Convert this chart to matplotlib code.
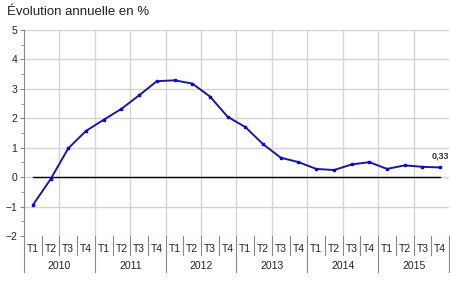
import matplotlib
matplotlib.use("Agg")
import matplotlib.pyplot as plt
import matplotlib.transforms as mtransforms
from matplotlib.ticker import MultipleLocator

plt.rcParams['font.family'] = ['Liberation Sans', 'DejaVu Sans']

years = ['2010', '2011', '2012', '2013', '2014', '2015']
quarters = ['T1', 'T2', 'T3', 'T4']
values = [-0.95, -0.07, 0.98, 1.57,
          1.95, 2.32, 2.78, 3.26,
          3.29, 3.18, 2.74, 2.05,
          1.70, 1.12, 0.66, 0.51,
          0.28, 0.24, 0.43, 0.51,
          0.28, 0.40, 0.35, 0.33]
last_label = '0,33'

n = len(values)
x = list(range(n))

fig = plt.figure(figsize=(4.5, 2.91), dpi=100)
ax = fig.add_axes([24/450, 1-236/291, 425/450, 206/291])

ax.set_xlim(-0.5, n - 0.5)
ax.set_ylim(-2, 5)

# grid
grid_c = '#d4d4d4'
for yv in range(-2, 6):
    ax.axhline(yv, color=grid_c, lw=1.0, zorder=0)
for b in range(2, n, 2):
    ax.axvline(b - 0.5, color=grid_c, lw=1.0, zorder=0)

# zero line
ax.plot([x[0], x[-1]], [0, 0], color='black', lw=1.0, zorder=2)

# series
ax.plot(x, values, color='#1a1a8f', lw=1.4, zorder=3,
        marker='s', markersize=2.0, markerfacecolor='#0000ff',
        markeredgecolor='#0000ff')
ax.annotate(last_label, (x[-1], values[-1]), xytext=(0, 5),
            textcoords='offset points', ha='center', va='bottom',
            fontsize=6.5, fontweight='bold', color='#333333')

for s in ['top', 'right', 'bottom']:
    ax.spines[s].set_visible(False)
ax.spines['left'].set_color('#888888')

ax.yaxis.set_major_locator(MultipleLocator(1))
ax.yaxis.set_minor_locator(MultipleLocator(0.5))
ax.tick_params(axis='y', which='major', length=3, color='#888888',
               labelsize=7.5, pad=2, labelcolor='#222222')
ax.tick_params(axis='y', which='minor', length=2, color='#888888')

ax.set_xticks(x)
ax.set_xticklabels([q for _ in years for q in quarters])
ax.tick_params(axis='x', length=0, labelsize=7.5, pad=6, labelcolor='#222222')

trans = mtransforms.blended_transform_factory(ax.transData, ax.transAxes)
h = 206.0
for b in range(n + 1):
    xb = b - 0.5
    depth = 36 if b % 4 == 0 else 19
    ax.plot([xb, xb], [0, -depth / h], transform=trans, color='#888888',
            lw=0.8, clip_on=False)
for i, yr in enumerate(years):
    ax.text(i * 4 + 1.5, -30 / h, yr, transform=trans, ha='center',
            va='center', fontsize=7.5, color='#222222')

fig.text(7/450, 1 - 12/291, 'Évolution annuelle en %', fontsize=9.5,
         ha='left', va='center', color='#222222')

fig.savefig('out.png', dpi=100)
